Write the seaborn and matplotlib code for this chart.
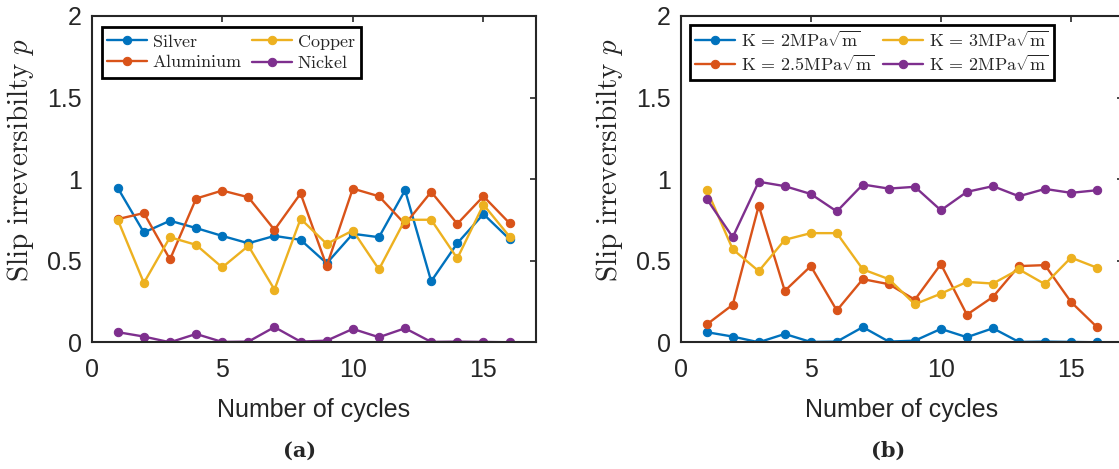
import numpy as np
import pandas as pd
import seaborn as sns
import matplotlib.pyplot as plt

# values
cycles = list(range(1, 17))

silver = [0.946, 0.673, 0.745, 0.700, 0.652, 0.607, 0.652, 0.628,
          0.484, 0.665, 0.644, 0.932, 0.374, 0.607, 0.786, 0.632]
aluminium = [0.755, 0.792, 0.508, 0.881, 0.930, 0.889, 0.689, 0.912,
             0.467, 0.942, 0.895, 0.724, 0.922, 0.726, 0.895, 0.730]
copper = [0.751, 0.364, 0.644, 0.597, 0.459, 0.591, 0.323, 0.757,
          0.603, 0.685, 0.447, 0.751, 0.751, 0.514, 0.844, 0.648]
nickel = [0.062, 0.035, 0.000, 0.051, 0.002, 0.004, 0.093, 0.004,
          0.010, 0.082, 0.031, 0.086, 0.002, 0.004, 0.002, 0.000]

k_2 = nickel
k_25 = [0.109, 0.230, 0.837, 0.315, 0.467, 0.195, 0.387, 0.356,
        0.261, 0.479, 0.169, 0.278, 0.467, 0.473, 0.247, 0.093]
k_3 = [0.936, 0.570, 0.436, 0.628, 0.669, 0.669, 0.447, 0.387,
       0.233, 0.298, 0.370, 0.360, 0.447, 0.356, 0.519, 0.457]
k_2b = [0.879, 0.644, 0.984, 0.957, 0.909, 0.802, 0.967, 0.942,
        0.953, 0.809, 0.922, 0.957, 0.895, 0.940, 0.916, 0.932]

labels_a = ['Silver', 'Aluminium', 'Copper', 'Nickel']
labels_b = [r'$\mathrm{K}\,=\,2\mathrm{MPa}\sqrt{\mathrm{m}}$',
            r'$\mathrm{K}\,=\,2.5\mathrm{MPa}\sqrt{\mathrm{m}}$',
            r'$\mathrm{K}\,=\,3\mathrm{MPa}\sqrt{\mathrm{m}}$',
            r'$\mathrm{K}\,=\,2\mathrm{MPa}\sqrt{\mathrm{m}}$']
colors = ['#0072BD', '#D95319', '#EDB120', '#7E2F8E']

sns.set_style("white")
plt.rcParams['font.family'] = ['Liberation Sans', 'DejaVu Sans']
plt.rcParams['mathtext.fontset'] = 'cm'

fig = plt.figure(figsize=(11.19, 4.69), dpi=100)
ax_a = fig.add_axes([0.0819, 0.2702, 0.3968, 0.6957])
ax_b = fig.add_axes([0.6083, 0.2702, 0.3953, 0.6957])


def draw_panel(ax, series, labels, leg_anchor):
    for vals, lab, col in zip(series, labels, colors):
        sns.lineplot(x=cycles, y=vals, ax=ax, color=col, marker='o',
                     markersize=6, markeredgecolor=col, linewidth=1.7,
                     label=lab)
    ax.set_xlim(0, 17)
    ax.set_ylim(0, 2)
    ax.set_xticks([0, 5, 10, 15])
    ax.set_yticks([0, 0.5, 1, 1.5, 2])
    ax.set_yticklabels(['0', '0.5', '1', '1.5', '2'])
    ax.tick_params(direction='in', length=4, width=1.2, top=True, right=True,
                   labelsize=18, colors='#262626')
    ax.tick_params(axis='x', pad=11)
    ax.tick_params(axis='y', pad=7)
    for sp in ax.spines.values():
        sp.set_color('#262626')
        sp.set_linewidth(1.5)
    ax.set_xlabel('Number of cycles', fontsize=18, color='#262626')
    ax.xaxis.set_label_coords(0.5, -0.17)
    ax.set_ylabel(r'$\mathrm{Slip\ irreversibilty}\ p$', fontsize=21,
                  color='#262626')
    ax.yaxis.set_label_coords(-0.125, 0.56)
    leg = ax.legend(loc='upper left', bbox_to_anchor=leg_anchor, ncol=2,
                    fontsize=13, frameon=True, fancybox=False,
                    framealpha=1, edgecolor='black', borderaxespad=0,
                    handlelength=2.2, handletextpad=0.3, columnspacing=0.5,
                    labelspacing=0.2, borderpad=0.3)
    leg.get_frame().set_linewidth(2)
    for t in leg.get_texts():
        if not t.get_text().startswith('$'):
            t.set_text(r'$\mathrm{' + t.get_text() + '}$')


draw_panel(ax_a, [silver, aluminium, copper, nickel], labels_a, (0.023, 0.966))
draw_panel(ax_b, [k_2, k_25, k_3, k_2b], labels_b, (0.021, 0.972))

fig.text(300 / 1119, 1 - 451 / 469, '(a)', fontsize=15, family='DejaVu Serif',
         fontweight='bold', ha='center', va='center')
fig.text(888 / 1119, 1 - 451 / 469, '(b)', fontsize=15, family='DejaVu Serif',
         fontweight='bold', ha='center', va='center')

fig.savefig('out.png', dpi=100)
